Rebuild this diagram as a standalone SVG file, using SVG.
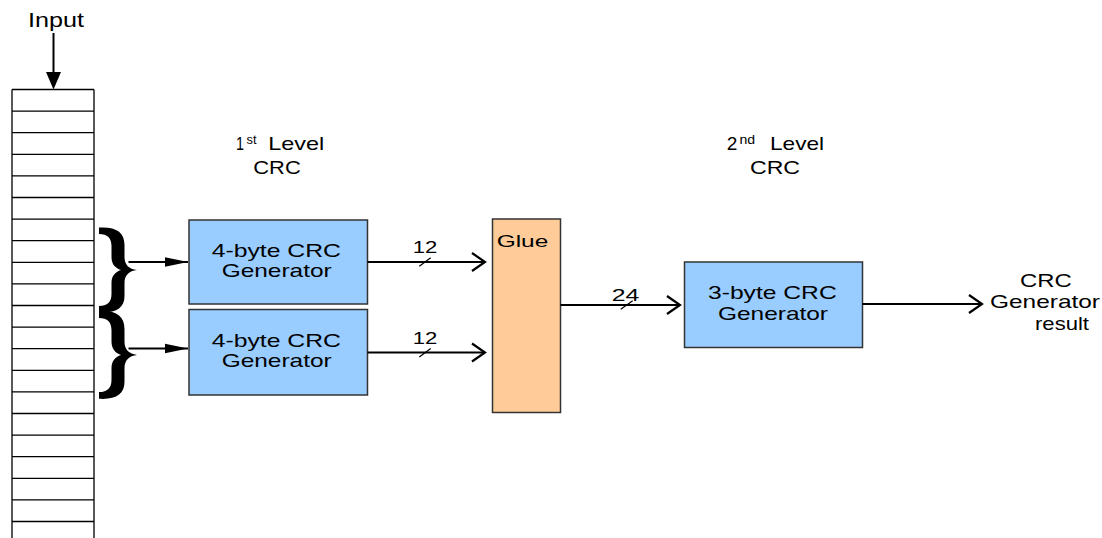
<svg xmlns="http://www.w3.org/2000/svg" width="1102" height="538" viewBox="0 0 1102 538">
<style>
text{font-family:"Liberation Sans",Arial,sans-serif;fill:#000}
.t19{font-size:19px}
.t17{font-size:17px}
.box{fill:#99CCFF;stroke:#333;stroke-width:1.5}
.glue{fill:#FFCC99;stroke:#333;stroke-width:1.5}
.reg{fill:none;stroke:#000;stroke-width:1.3}
.con{fill:none;stroke:#000;stroke-width:2}
.slash{fill:none;stroke:#000;stroke-width:1.2}
.brace{fill:#000}
</style>
<defs>
<marker id="open" markerWidth="16" markerHeight="22" refX="14" refY="11" orient="auto" markerUnits="userSpaceOnUse">
<path d="M1,2 L14,11 L1,20" fill="none" stroke="#000" stroke-width="2.2"/>
</marker>
<marker id="solid" markerWidth="24" markerHeight="12" refX="23" refY="6" orient="auto" markerUnits="userSpaceOnUse">
<path d="M0,1.2 L23,6 L0,10.8 Z" fill="#000"/>
</marker>
<path id="bracePath" d="M99,227.5 C116,226.5 124.5,232 124.5,245 L124.5,257 C124.5,265 129,269 137,270 C129,271 124.5,275 124.5,283 L124.5,296 C124.5,308 116,313.5 99,312.5 L99,306 C107.5,306 111.5,302 111.5,294 L111.5,283 C111.5,276 115,272 121,270 C115,268 111.5,264 111.5,257 L111.5,246 C111.5,238 107.5,234 99,234 Z"/>
</defs>

<g id="input-label">
<text x="28" y="26.7" style="font-size:20px" textLength="56" lengthAdjust="spacingAndGlyphs">Input</text>
</g>

<g id="register">
<path class="reg" d="M12,89.5 V538 M94,89.5 V538"/>
<path class="reg" d="M12,89.5 H94 M12,111.1 H94 M12,132.7 H94 M12,154.3 H94 M12,175.9 H94 M12,197.5 H94 M12,219.1 H94 M12,240.7 H94 M12,262.3 H94 M12,283.9 H94 M12,305.5 H94 M12,327.1 H94 M12,348.7 H94 M12,370.3 H94 M12,391.9 H94 M12,413.5 H94 M12,435.1 H94 M12,456.7 H94 M12,478.3 H94 M12,499.9 H94 M12,521.5 H94"/>
</g>

<g id="braces">
<use href="#bracePath" class="brace"/>
<use href="#bracePath" class="brace" transform="translate(0,355) scale(1,1.03) translate(0,-270)"/>
</g>

<g id="level1-label">
<text class="t19" x="236" y="150" textLength="8" lengthAdjust="spacingAndGlyphs">1</text>
<text x="246.5" y="143.5" style="font-size:12px" textLength="10" lengthAdjust="spacingAndGlyphs">st</text>
<text class="t19" x="268.3" y="150" textLength="56" lengthAdjust="spacingAndGlyphs">Level</text>
<text class="t19" x="253.3" y="174" textLength="47.4" lengthAdjust="spacingAndGlyphs">CRC</text>
</g>

<g id="level2-label">
<text class="t19" x="726.7" y="150" textLength="10.6" lengthAdjust="spacingAndGlyphs">2</text>
<text x="739.5" y="143.5" style="font-size:12px" textLength="15.7" lengthAdjust="spacingAndGlyphs">nd</text>
<text class="t19" x="770" y="150" textLength="54" lengthAdjust="spacingAndGlyphs">Level</text>
<text class="t19" x="750" y="174" textLength="50" lengthAdjust="spacingAndGlyphs">CRC</text>
</g>

<g id="crc4-a">
<rect class="box" x="189" y="220" width="178.5" height="84"/>
<text class="t19" x="211.7" y="256.7" textLength="129.3" lengthAdjust="spacingAndGlyphs">4-byte CRC</text>
<text class="t19" x="221.7" y="277" textLength="110" lengthAdjust="spacingAndGlyphs">Generator</text>
</g>

<g id="crc4-b">
<rect class="box" x="189" y="309.5" width="178.5" height="85.5"/>
<text class="t19" x="211.7" y="346.7" textLength="129.3" lengthAdjust="spacingAndGlyphs">4-byte CRC</text>
<text class="t19" x="221.7" y="367.3" textLength="110" lengthAdjust="spacingAndGlyphs">Generator</text>
</g>

<g id="glue">
<rect class="glue" x="492.5" y="219" width="68" height="193.5"/>
<text x="496.7" y="246.7" style="font-size:16px" textLength="51.6" lengthAdjust="spacingAndGlyphs">Glue</text>
</g>

<g id="crc3">
<rect class="box" x="684.5" y="262" width="178" height="85.5"/>
<text class="t19" x="708" y="298.7" textLength="128.7" lengthAdjust="spacingAndGlyphs">3-byte CRC</text>
<text class="t19" x="718" y="319.7" textLength="110" lengthAdjust="spacingAndGlyphs">Generator</text>
</g>

<g id="output-label">
<text class="t19" x="1020" y="287.3" textLength="51.7" lengthAdjust="spacingAndGlyphs">CRC</text>
<text class="t19" x="990" y="307.7" textLength="110" lengthAdjust="spacingAndGlyphs">Generator</text>
<text class="t19" x="1035" y="330" textLength="54" lengthAdjust="spacingAndGlyphs">result</text>
</g>

<g id="connectors">
<path class="con" d="M53.5,33 V76"/>
<path d="M46,72 L61,72 L53.5,89.5 Z" fill="#000"/>
<path class="con" d="M128.5,262 H188" marker-end="url(#solid)"/>
<path class="con" d="M128.5,348.5 H188" marker-end="url(#solid)"/>
<path class="con" d="M367.5,262 H485" marker-end="url(#open)"/>
<path class="con" d="M367.5,352.5 H485" marker-end="url(#open)"/>
<path class="con" d="M560.5,305 H680" marker-end="url(#open)"/>
<path class="con" d="M862.5,304 H982" marker-end="url(#open)"/>
<path class="slash" d="M419.3,266.3 L430.7,257.7 M419.3,357 L430.7,348.5 M620.7,309.3 L632.7,300.7"/>
<text class="t17" x="412.7" y="253.3" textLength="24.6" lengthAdjust="spacingAndGlyphs">12</text>
<text class="t17" x="412.7" y="344" textLength="24.6" lengthAdjust="spacingAndGlyphs">12</text>
<text class="t17" x="611.7" y="300.7" textLength="27.6" lengthAdjust="spacingAndGlyphs">24</text>
</g>
</svg>
